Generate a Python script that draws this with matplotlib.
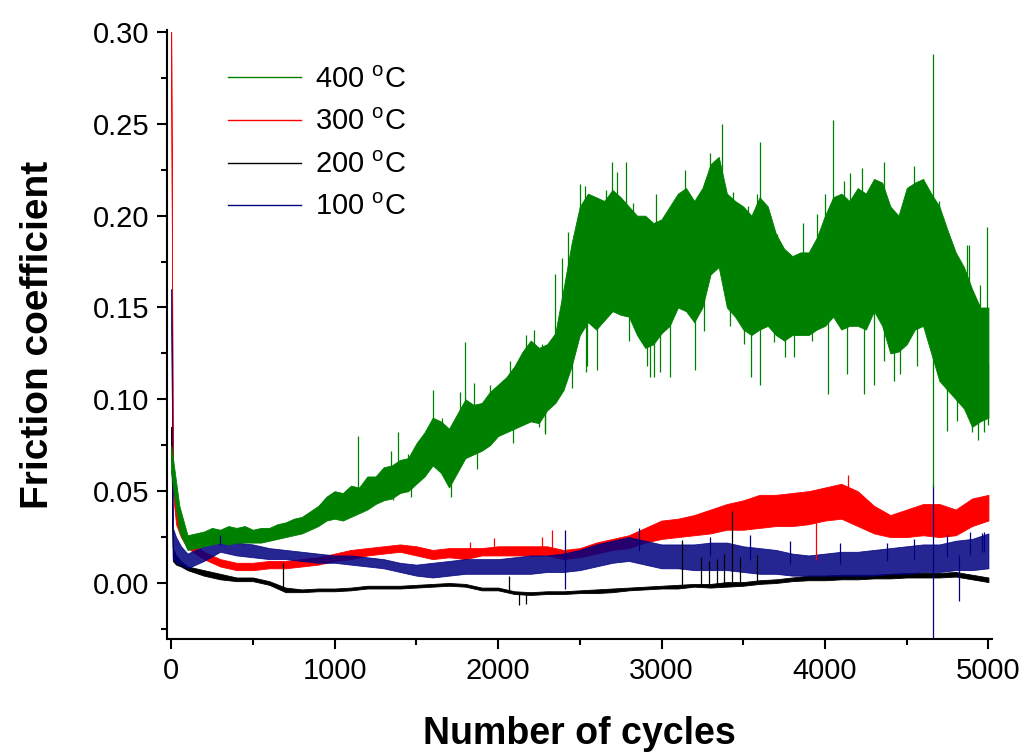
import numpy as np
import matplotlib
matplotlib.use('Agg')
from matplotlib import pyplot as plt
from matplotlib.ticker import MultipleLocator, FormatStrFormatter

plt.rcParams['font.family'] = ['Liberation Sans', 'DejaVu Sans']
plt.rcParams['mathtext.fontset'] = 'custom'
plt.rcParams['mathtext.rm'] = 'Liberation Sans'

# cycle positions where the bands of the 100/200/300 C traces were read
cycles = [0, 10, 30, 60, 100, 200, 300, 400, 500, 600, 700, 800, 900, 1000,
          1100, 1200, 1300, 1400, 1500, 1600, 1700, 1800, 1900, 2000, 2100,
          2200, 2300, 2400, 2500, 2600, 2700, 2800, 2900, 3000, 3100, 3200,
          3300, 3400, 3500, 3600, 3700, 3800, 3900, 4000, 4100, 4200, 4300,
          4400, 4500, 4600, 4700, 4800, 4900, 5000]

# 400 C is read every 50 cycles (lower / upper edge of the dense band)
green_cycles = list(range(0, 5001, 50))
green_lo = [0.060, 0.028, 0.018, 0.019, 0.020, 0.021, 0.022, 0.021, 0.022, 0.022,
            0.022, 0.022, 0.023, 0.024, 0.025, 0.026, 0.027, 0.029, 0.031, 0.034,
            0.035, 0.034, 0.036, 0.038, 0.040, 0.043, 0.045, 0.046, 0.049, 0.050,
            0.054, 0.058, 0.064, 0.060, 0.052, 0.060, 0.068, 0.070, 0.072, 0.075,
            0.080, 0.082, 0.084, 0.086, 0.088, 0.087, 0.094, 0.098, 0.105, 0.118,
            0.135, 0.142, 0.138, 0.143, 0.148, 0.146, 0.145, 0.135, 0.128, 0.130,
            0.136, 0.140, 0.150, 0.148, 0.142, 0.150, 0.168, 0.172, 0.150, 0.145,
            0.138, 0.135, 0.138, 0.140, 0.135, 0.132, 0.135, 0.135, 0.135, 0.138,
            0.140, 0.145, 0.138, 0.140, 0.140, 0.138, 0.148, 0.140, 0.125, 0.126,
            0.130, 0.138, 0.140, 0.125, 0.110, 0.105, 0.100, 0.095, 0.085, 0.088,
            0.090]
green_hi = [0.075, 0.042, 0.026, 0.027, 0.028, 0.030, 0.029, 0.031, 0.030, 0.031,
            0.029, 0.030, 0.030, 0.032, 0.033, 0.035, 0.036, 0.039, 0.042, 0.047,
            0.050, 0.049, 0.053, 0.052, 0.058, 0.058, 0.063, 0.064, 0.067, 0.068,
            0.076, 0.082, 0.090, 0.088, 0.084, 0.092, 0.100, 0.097, 0.098, 0.104,
            0.108, 0.112, 0.118, 0.126, 0.132, 0.128, 0.130, 0.136, 0.160, 0.185,
            0.205, 0.212, 0.210, 0.208, 0.214, 0.210, 0.205, 0.200, 0.200, 0.196,
            0.198, 0.205, 0.212, 0.215, 0.208, 0.215, 0.228, 0.232, 0.212, 0.208,
            0.205, 0.200, 0.210, 0.205, 0.190, 0.182, 0.178, 0.180, 0.180, 0.188,
            0.200, 0.210, 0.212, 0.208, 0.215, 0.212, 0.220, 0.218, 0.205, 0.200,
            0.215, 0.218, 0.220, 0.212, 0.205, 0.192, 0.180, 0.172, 0.160, 0.150,
            0.150]

# 300 C
red_lo = [0.300, 0.050, 0.032, 0.025, 0.019, 0.013, 0.009, 0.007, 0.007, 0.008,
          0.008, 0.009, 0.010, 0.012, 0.013, 0.015, 0.016, 0.017, 0.015, 0.013,
          0.014, 0.013, 0.015, 0.015, 0.015, 0.015, 0.015, 0.013, 0.014, 0.016,
          0.018, 0.019, 0.022, 0.024, 0.025, 0.026, 0.027, 0.029, 0.029, 0.030,
          0.031, 0.031, 0.032, 0.034, 0.035, 0.031, 0.027, 0.025, 0.025, 0.026,
          0.025, 0.026, 0.031, 0.034]
red_hi = [0.300, 0.060, 0.040, 0.030, 0.024, 0.017, 0.013, 0.011, 0.011, 0.012,
          0.012, 0.013, 0.014, 0.016, 0.018, 0.019, 0.020, 0.021, 0.020, 0.018,
          0.019, 0.019, 0.019, 0.020, 0.020, 0.020, 0.020, 0.018, 0.019, 0.022,
          0.024, 0.026, 0.030, 0.034, 0.035, 0.037, 0.040, 0.043, 0.045, 0.048,
          0.048, 0.049, 0.050, 0.052, 0.054, 0.050, 0.042, 0.037, 0.040, 0.043,
          0.043, 0.040, 0.046, 0.048]

# 200 C
black_lo = [0.085, 0.012, 0.010, 0.009, 0.007, 0.004, 0.002, 0.001, 0.001, -0.001,
            -0.005, -0.005, -0.0045, -0.0045, -0.004, -0.003, -0.003, -0.003, -0.0025, -0.002,
            -0.0015, -0.002, -0.004, -0.004, -0.006, -0.0065, -0.006, -0.006, -0.0055, -0.0055,
            -0.005, -0.004, -0.0035, -0.003, -0.003, -0.002, -0.0025, -0.002, -0.0015, -0.0005,
            0.000, 0.001, 0.0015, 0.0015, 0.002, 0.002, 0.0025, 0.0025, 0.003, 0.003,
            0.003, 0.0035, 0.002, 0.0005]
black_hi = [0.085, 0.019, 0.015, 0.012, 0.009, 0.007, 0.005, 0.003, 0.003, 0.001,
            -0.0025, -0.0035, -0.003, -0.003, -0.0025, -0.0015, -0.0015, -0.0015, -0.001, -0.0005,
            0.000, -0.0005, -0.0025, -0.0025, -0.0045, -0.005, -0.0045, -0.0045, -0.004, -0.0035,
            -0.003, -0.0025, -0.002, -0.0015, -0.001, -0.0005, -0.0005, 0.0005, 0.0005, 0.0015,
            0.002, 0.003, 0.004, 0.004, 0.0045, 0.0045, 0.0045, 0.005, 0.0055, 0.0055,
            0.0055, 0.006, 0.0045, 0.003]

# 100 C
blue_lo = [0.160, 0.014, 0.011, 0.010, 0.008, 0.012, 0.017, 0.015, 0.014, 0.013,
           0.013, 0.012, 0.011, 0.011, 0.010, 0.009, 0.008, 0.006, 0.004, 0.003,
           0.004, 0.005, 0.005, 0.005, 0.005, 0.005, 0.006, 0.006, 0.007, 0.009,
           0.011, 0.012, 0.010, 0.008, 0.008, 0.007, 0.007, 0.007, 0.006, 0.005,
           0.005, 0.004, 0.004, 0.004, 0.004, 0.004, 0.004, 0.005, 0.005, 0.006,
           0.006, 0.007, 0.007, 0.008]
blue_hi = [0.160, 0.030, 0.025, 0.020, 0.016, 0.020, 0.024, 0.022, 0.021, 0.019,
           0.018, 0.017, 0.016, 0.015, 0.015, 0.014, 0.013, 0.011, 0.010, 0.011,
           0.012, 0.013, 0.013, 0.013, 0.014, 0.015, 0.015, 0.016, 0.018, 0.021,
           0.023, 0.025, 0.023, 0.021, 0.021, 0.021, 0.022, 0.022, 0.020, 0.019,
           0.018, 0.016, 0.015, 0.016, 0.017, 0.017, 0.018, 0.019, 0.020, 0.021,
           0.021, 0.023, 0.024, 0.027]

# isolated spikes (cycle, tip value)
green_spike_x = [1145, 1345, 1390, 1450, 1517, 1600, 1660, 1770, 1800, 1850, 1950,
                 2000, 2070, 2170, 2220, 2270, 2350, 2390, 2430, 2502, 2532, 2563,
                 2624, 2660, 2698, 2726, 2780, 2828, 2965, 3033, 3115, 3145, 3227,
                 3298, 3339, 3372, 3440, 3532, 3583, 3600, 3634, 3706, 3767, 3865,
                 3951, 4002, 4049, 4114, 4155, 4186, 4227, 4277, 4358, 4461, 4512,
                 4546, 4593, 4659, 4700, 4787, 4869, 4879, 4950, 4991,
                 1360, 1465, 1710, 1870, 2090, 2250, 2285, 2288, 2450, 2540, 2547,
                 2605, 2800, 2911, 2931, 2952, 2993, 3053, 3207, 3258, 3421, 3502,
                 3548, 3605, 3686, 3758, 3808, 3920, 4021, 4134, 4236, 4297, 4358,
                 4420, 4461, 4563, 4659, 4748, 4808, 4900, 4939, 4971, 4999]
green_spike_y = [0.080, 0.072, 0.082, 0.070, 0.078, 0.105, 0.090, 0.104, 0.131, 0.109, 0.108,
                 0.100, 0.121, 0.135, 0.138, 0.130, 0.168, 0.177, 0.191, 0.217, 0.216, 0.203,
                 0.205, 0.214, 0.229, 0.224, 0.229, 0.207, 0.212, 0.200, 0.208, 0.225, 0.206,
                 0.234, 0.228, 0.250, 0.213, 0.205, 0.212, 0.240, 0.201, 0.190, 0.175, 0.196,
                 0.201, 0.212, 0.252, 0.219, 0.223, 0.212, 0.226, 0.209, 0.229, 0.195, 0.216,
                 0.227, 0.210, 0.288, 0.208, 0.172, 0.184, 0.184, 0.162, 0.194,
                 0.045, 0.047, 0.047, 0.062, 0.076, 0.085, 0.081, 0.082, 0.106, 0.115, 0.118,
                 0.116, 0.132, 0.118, 0.112, 0.112, 0.115, 0.112, 0.116, 0.137, 0.140, 0.130,
                 0.112, 0.108, 0.131, 0.123, 0.123, 0.132, 0.103, 0.114, 0.103, 0.108, 0.121,
                 0.110, 0.114, 0.118, 0.052, 0.083, 0.088, 0.082, 0.078, 0.082, 0.086]
red_spike_x = [1830, 1973, 2268, 2330, 3947, 4140]
red_spike_y = [0.0225, 0.0245, 0.025, 0.029, 0.0125, 0.059]
black_spike_x = [685, 2064, 2130, 2170, 3125, 3244, 3290, 3340, 3380, 3434, 3480, 3583]
black_spike_y = [0.011, 0.004, -0.012, -0.0115, 0.0235, 0.014, 0.012, 0.013, 0.016,
                 0.039, 0.014, 0.015]
blue_spike_x = [300, 2411, 2411, 2860, 3299, 3543, 3788, 4094, 4380, 4543, 4660,
                4660, 4747, 4817, 4890, 4960, 4971]
blue_spike_y = [0.026, 0.029, -0.003, 0.030, 0.025, 0.026, 0.023, 0.022, 0.022, 0.024,
                0.054, -0.031, 0.026, -0.010, 0.028, 0.027, 0.028]

series = [
    ('200 $^\\mathrm{o}$C', '#000000', cycles, black_lo, black_hi, black_spike_x, black_spike_y, 1.0),
    ('300 $^\\mathrm{o}$C', '#ff0000', cycles, red_lo, red_hi, red_spike_x, red_spike_y, 1.0),
    ('100 $^\\mathrm{o}$C', '#000080', cycles, blue_lo, blue_hi, blue_spike_x, blue_spike_y, 0.85),
    ('400 $^\\mathrm{o}$C', '#008000', green_cycles, green_lo, green_hi, green_spike_x, green_spike_y, 1.0),
]

fig = plt.figure(figsize=(10.25, 7.54), dpi=100)
ax = fig.add_axes([0.163, 0.1525, 0.805, 0.8075])

handles = {}
for label, color, xs, lo, hi, sx, sy, alpha in series:
    x = np.array(xs, dtype=float)
    lo = np.array(lo)
    hi = np.array(hi)
    ax.fill_between(x, lo, hi, color=color, lw=0.6, alpha=alpha)
    mid = (lo + hi) / 2
    base = np.interp(sx, x, mid)
    ax.vlines(sx, base, sy, color=color, lw=0.9)
    line, = ax.plot([], [], color=color, lw=1.0, label=label)
    handles[label[:3]] = line

order = ['400', '300', '200', '100']
hs = [handles[k] for k in order]
ax.legend(hs, [h.get_label() for h in hs],
          loc='upper left', bbox_to_anchor=(0.042, 0.985), frameon=False,
          fontsize=21, handlelength=2.5, handletextpad=0.5, labelspacing=0.5)

ax.set_xlim(-25, 5023)
ax.set_ylim(-0.0305, 0.301)
ax.xaxis.set_major_locator(MultipleLocator(1000))
ax.xaxis.set_minor_locator(MultipleLocator(500))
ax.yaxis.set_major_locator(MultipleLocator(0.05))
ax.yaxis.set_minor_locator(MultipleLocator(0.025))
ax.yaxis.set_major_formatter(FormatStrFormatter('%.2f'))
ax.tick_params(which='major', direction='out', length=7, width=1.5, labelsize=21, pad=6)
ax.tick_params(which='minor', direction='out', length=4, width=1.5)
for side in ['top', 'right']:
    ax.spines[side].set_visible(False)
for side in ['left', 'bottom']:
    ax.spines[side].set_linewidth(1.5)

ax.set_xlabel('Number of cycles', fontsize=27, fontweight='bold', labelpad=22)
ax.set_ylabel('Friction coefficient', fontsize=28, fontweight='bold', labelpad=26)

fig.savefig('out.png', dpi=100)
